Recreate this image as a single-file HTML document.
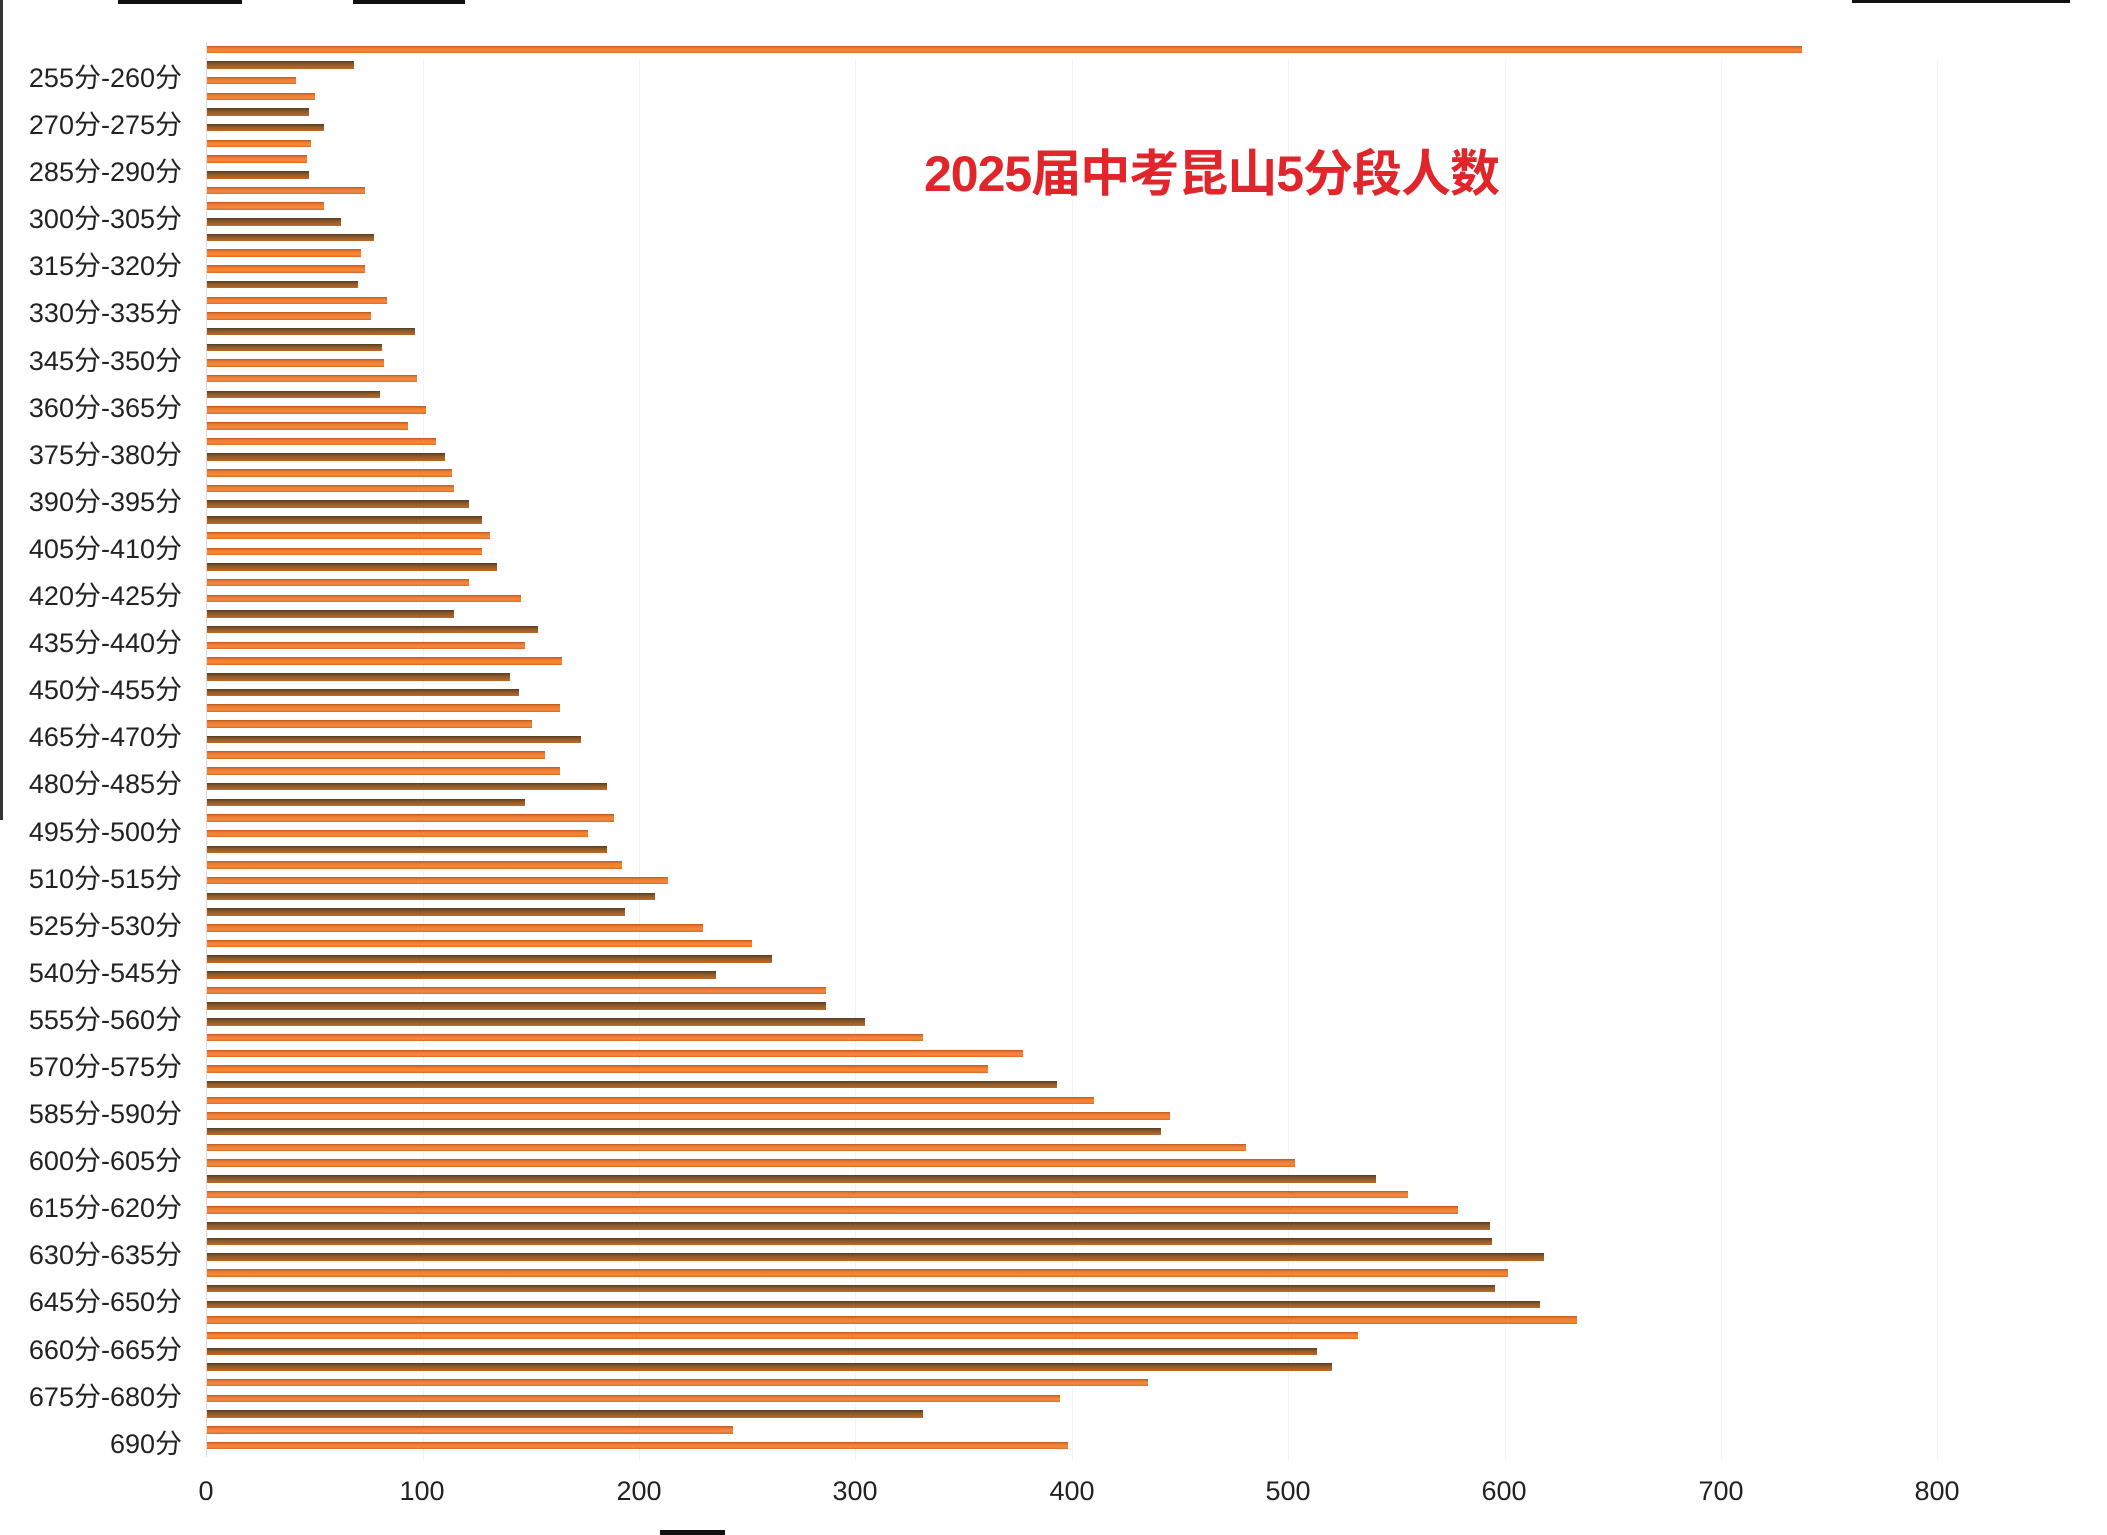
<!DOCTYPE html>
<html><head><meta charset="utf-8"><style>
html,body{margin:0;padding:0;background:#fff;}
#c{position:relative;width:2107px;height:1535px;overflow:hidden;background:#fff;font-family:"Liberation Sans","Noto Sans CJK SC",sans-serif;}
.grid{position:absolute;top:60px;width:1px;height:1400px;background:#f3f3f3;}
#bars{position:absolute;left:207px;top:41.5px;}
#bars div{height:15.7px;position:relative;}
#bars div span{position:absolute;left:0;top:4px;height:7.5px;background:linear-gradient(#b85a22 0,#f07a30 30%,#f58a3a 70%,#d96a28 100%);}
#bars div.d span{background:linear-gradient(#5a3a1e 0,#8a5a2a 40%,#c0692a 100%);}
#labels{position:absolute;right:calc(2107px - 182px);top:55px;text-align:right;font-size:27px;color:#222;}
#labels div{height:47.1px;line-height:47.1px;white-space:nowrap;}
.tk{position:absolute;top:1476px;font-size:27px;color:#222;width:100px;margin-left:-50px;text-align:center;}
#title{position:absolute;left:924px;top:134px;font-size:50px;font-weight:bold;color:#e0262a;white-space:nowrap;letter-spacing:-1px;font-family:"Liberation Sans","Noto Sans CJK SC",sans-serif;}
.blk{position:absolute;background:#111;}
</style></head><body><div id="c">
<div class="blk" style="left:0;top:0;width:3px;height:820px;background:#333"></div>
<div class="blk" style="left:118px;top:0;width:124px;height:4px"></div>
<div class="blk" style="left:353px;top:0;width:112px;height:4px"></div>
<div class="blk" style="left:1852px;top:0;width:218px;height:3px"></div>
<div class="grid" style="left:423px"></div><div class="grid" style="left:639px"></div><div class="grid" style="left:855px"></div><div class="grid" style="left:1072px"></div><div class="grid" style="left:1288px"></div><div class="grid" style="left:1505px"></div><div class="grid" style="left:1721px"></div><div class="grid" style="left:1937px"></div>
<div style="position:absolute;left:206px;top:42px;width:1px;height:1415px;background:#ddd"></div>
<div id="title">2025届中考昆山5分段人数</div>
<div id="bars">
<div><span style="width:calc(737*2.164px)"></span></div>
<div class="d"><span style="width:calc(68*2.164px)"></span></div>
<div><span style="width:calc(41*2.164px)"></span></div>
<div><span style="width:calc(50*2.164px)"></span></div>
<div class="d"><span style="width:calc(47*2.164px)"></span></div>
<div class="d"><span style="width:calc(54*2.164px)"></span></div>
<div><span style="width:calc(48*2.164px)"></span></div>
<div><span style="width:calc(46*2.164px)"></span></div>
<div class="d"><span style="width:calc(47*2.164px)"></span></div>
<div><span style="width:calc(73*2.164px)"></span></div>
<div><span style="width:calc(54*2.164px)"></span></div>
<div class="d"><span style="width:calc(62*2.164px)"></span></div>
<div class="d"><span style="width:calc(77*2.164px)"></span></div>
<div><span style="width:calc(71*2.164px)"></span></div>
<div><span style="width:calc(73*2.164px)"></span></div>
<div class="d"><span style="width:calc(70*2.164px)"></span></div>
<div><span style="width:calc(83*2.164px)"></span></div>
<div><span style="width:calc(76*2.164px)"></span></div>
<div class="d"><span style="width:calc(96*2.164px)"></span></div>
<div class="d"><span style="width:calc(81*2.164px)"></span></div>
<div><span style="width:calc(82*2.164px)"></span></div>
<div><span style="width:calc(97*2.164px)"></span></div>
<div class="d"><span style="width:calc(80*2.164px)"></span></div>
<div><span style="width:calc(101*2.164px)"></span></div>
<div><span style="width:calc(93*2.164px)"></span></div>
<div><span style="width:calc(106*2.164px)"></span></div>
<div class="d"><span style="width:calc(110*2.164px)"></span></div>
<div><span style="width:calc(113*2.164px)"></span></div>
<div><span style="width:calc(114*2.164px)"></span></div>
<div class="d"><span style="width:calc(121*2.164px)"></span></div>
<div class="d"><span style="width:calc(127*2.164px)"></span></div>
<div><span style="width:calc(131*2.164px)"></span></div>
<div><span style="width:calc(127*2.164px)"></span></div>
<div class="d"><span style="width:calc(134*2.164px)"></span></div>
<div><span style="width:calc(121*2.164px)"></span></div>
<div><span style="width:calc(145*2.164px)"></span></div>
<div class="d"><span style="width:calc(114*2.164px)"></span></div>
<div class="d"><span style="width:calc(153*2.164px)"></span></div>
<div><span style="width:calc(147*2.164px)"></span></div>
<div><span style="width:calc(164*2.164px)"></span></div>
<div class="d"><span style="width:calc(140*2.164px)"></span></div>
<div class="d"><span style="width:calc(144*2.164px)"></span></div>
<div><span style="width:calc(163*2.164px)"></span></div>
<div><span style="width:calc(150*2.164px)"></span></div>
<div class="d"><span style="width:calc(173*2.164px)"></span></div>
<div><span style="width:calc(156*2.164px)"></span></div>
<div><span style="width:calc(163*2.164px)"></span></div>
<div class="d"><span style="width:calc(185*2.164px)"></span></div>
<div class="d"><span style="width:calc(147*2.164px)"></span></div>
<div><span style="width:calc(188*2.164px)"></span></div>
<div><span style="width:calc(176*2.164px)"></span></div>
<div class="d"><span style="width:calc(185*2.164px)"></span></div>
<div><span style="width:calc(192*2.164px)"></span></div>
<div><span style="width:calc(213*2.164px)"></span></div>
<div class="d"><span style="width:calc(207*2.164px)"></span></div>
<div class="d"><span style="width:calc(193*2.164px)"></span></div>
<div><span style="width:calc(229*2.164px)"></span></div>
<div><span style="width:calc(252*2.164px)"></span></div>
<div class="d"><span style="width:calc(261*2.164px)"></span></div>
<div class="d"><span style="width:calc(235*2.164px)"></span></div>
<div><span style="width:calc(286*2.164px)"></span></div>
<div class="d"><span style="width:calc(286*2.164px)"></span></div>
<div class="d"><span style="width:calc(304*2.164px)"></span></div>
<div><span style="width:calc(331*2.164px)"></span></div>
<div><span style="width:calc(377*2.164px)"></span></div>
<div><span style="width:calc(361*2.164px)"></span></div>
<div class="d"><span style="width:calc(393*2.164px)"></span></div>
<div><span style="width:calc(410*2.164px)"></span></div>
<div><span style="width:calc(445*2.164px)"></span></div>
<div class="d"><span style="width:calc(441*2.164px)"></span></div>
<div><span style="width:calc(480*2.164px)"></span></div>
<div><span style="width:calc(503*2.164px)"></span></div>
<div class="d"><span style="width:calc(540*2.164px)"></span></div>
<div><span style="width:calc(555*2.164px)"></span></div>
<div><span style="width:calc(578*2.164px)"></span></div>
<div class="d"><span style="width:calc(593*2.164px)"></span></div>
<div class="d"><span style="width:calc(594*2.164px)"></span></div>
<div class="d"><span style="width:calc(618*2.164px)"></span></div>
<div><span style="width:calc(601*2.164px)"></span></div>
<div class="d"><span style="width:calc(595*2.164px)"></span></div>
<div class="d"><span style="width:calc(616*2.164px)"></span></div>
<div><span style="width:calc(633*2.164px)"></span></div>
<div><span style="width:calc(532*2.164px)"></span></div>
<div class="d"><span style="width:calc(513*2.164px)"></span></div>
<div class="d"><span style="width:calc(520*2.164px)"></span></div>
<div><span style="width:calc(435*2.164px)"></span></div>
<div><span style="width:calc(394*2.164px)"></span></div>
<div class="d"><span style="width:calc(331*2.164px)"></span></div>
<div><span style="width:calc(243*2.164px)"></span></div>
<div><span style="width:calc(398*2.164px)"></span></div>
</div>
<div id="labels">
<div>255分-260分</div><div>270分-275分</div><div>285分-290分</div><div>300分-305分</div><div>315分-320分</div><div>330分-335分</div><div>345分-350分</div><div>360分-365分</div><div>375分-380分</div><div>390分-395分</div><div>405分-410分</div><div>420分-425分</div><div>435分-440分</div><div>450分-455分</div><div>465分-470分</div><div>480分-485分</div><div>495分-500分</div><div>510分-515分</div><div>525分-530分</div><div>540分-545分</div><div>555分-560分</div><div>570分-575分</div><div>585分-590分</div><div>600分-605分</div><div>615分-620分</div><div>630分-635分</div><div>645分-650分</div><div>660分-665分</div><div>675分-680分</div><div>690分</div>
</div>
<div class="tk" style="left:206px">0</div>
<div class="tk" style="left:422px">100</div>
<div class="tk" style="left:639px">200</div>
<div class="tk" style="left:855px">300</div>
<div class="tk" style="left:1072px">400</div>
<div class="tk" style="left:1288px">500</div>
<div class="tk" style="left:1504px">600</div>
<div class="tk" style="left:1721px">700</div>
<div class="tk" style="left:1937px">800</div>
<div class="blk" style="left:660px;top:1530px;width:65px;height:5px"></div>
</div></body></html>
